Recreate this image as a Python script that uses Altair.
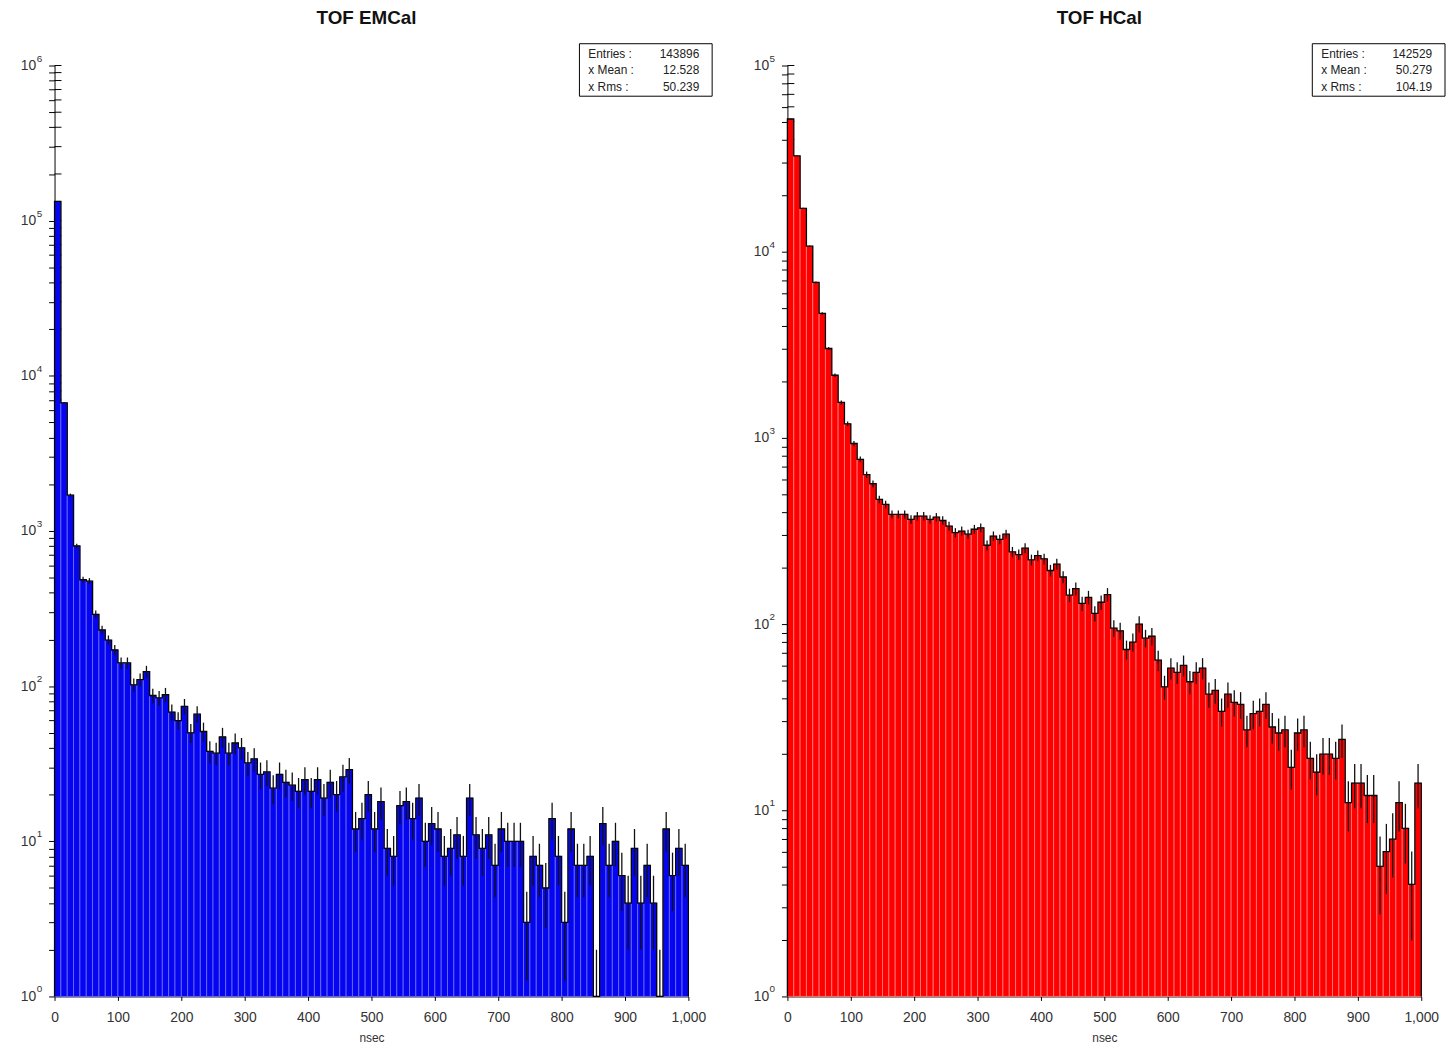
import altair as alt
import pandas as pd

# ---------------- data ----------------
bin_starts = list(range(0, 1000, 10))  # 100 bins of 10 nsec

emcal_counts = [
    133000, 6700, 1700, 800, 485, 475, 290, 230, 198, 171,
    141, 141, 102, 110, 124, 87, 84, 88, 68, 60,
    74, 50, 66, 51, 38, 37, 47, 37, 43, 40,
    32, 34, 27, 28, 22, 27, 24, 23, 21, 25,
    21, 25, 19, 24, 20, 26, 29, 12, 14, 20,
    12, 18, 9, 8, 17, 18, 14, 19, 10, 13,
    12, 8, 9, 11, 8, 19, 11, 9, 11, 7,
    12, 10, 10, 10, 3, 8, 7, 5, 14, 8,
    3, 12, 7, 7, 8, 1, 13, 7, 10, 6,
    4, 9, 4, 7, 4, 1, 12, 6, 9, 7,
]

hcal_counts = [
    51600, 32700, 17100, 10700, 6840, 4660, 3020, 2170, 1550, 1190,
    933, 767, 634, 567, 467, 439, 388, 388, 388, 365,
    380, 380, 365, 375, 360, 336, 310, 316, 304, 323,
    329, 265, 297, 285, 304, 244, 236, 256, 221, 233,
    224, 194, 210, 179, 143, 155, 129, 139, 114, 131,
    144, 95, 92, 73, 80, 100, 84, 86, 64, 46,
    58, 55, 60, 49, 55, 58, 42, 44, 34, 42,
    38, 37, 27, 33, 34, 37, 28, 26, 27, 17,
    26, 27, 19, 16, 20, 20, 19, 24, 11, 14,
    14, 12, 12, 5, 6, 7, 11, 8, 4, 14,
]

x_tick_values = list(range(0, 1001, 100))

stat_labels = ["Entries :", "x Mean :", "x Rms :"]
emcal_stat_values = ["143896", "12.528", "50.239"]
hcal_stat_values = ["142529", "50.279", "104.19"]

FONT = "Liberation Sans"
PLOT_W = 640
PLOT_H = 940


def panel(counts, title, fill, sep, top_exp, stat_values):
    df = pd.DataFrame({"lo": bin_starts, "n": counts})
    df["hi"] = df["lo"] + 10
    df["mid"] = df["lo"] + 5
    df["base"] = 1
    err = df["n"] ** 0.5
    df["elo"] = (df["n"] - err).clip(lower=1)
    df["ehi"] = df["n"] + err

    line_x = [0] + bin_starts + [1000, 1000]
    line_y = [1] + list(counts) + [counts[-1], 1]
    line_df = pd.DataFrame({"x": line_x, "y": line_y, "o": list(range(len(line_x)))})

    decades = [10 ** d for d in range(top_exp + 1)]
    exp_df = pd.DataFrame({"t": decades, "e": [str(d) for d in range(top_exp + 1)]})
    y_ticks = [k * 10 ** d for d in range(top_exp) for k in range(1, 10)] + [10 ** top_exp]
    tick_df = pd.DataFrame({"t": y_ticks})
    label_expr = " || ".join(f"datum.value == {v}" for v in decades)
    label_expr = f"({label_expr}) ? '10' : ''"

    xs = alt.Scale(domain=[0, 1000], nice=False, zero=False)
    ys = alt.Scale(type="log", domain=[1, 10 ** top_exp], nice=False)
    x_axis = alt.Axis(values=x_tick_values, format=",d", tickSize=4, labelPadding=10,
                      labelFlush=False, labelOverlap=False, titlePadding=9)
    y_axis = alt.Axis(values=y_ticks, labelExpr=label_expr, tickSize=6, labelPadding=13,
                      labelFlush=False, labelOverlap=False)

    inner_ticks = alt.Chart(tick_df).mark_rule(color="black", strokeWidth=1).encode(
        x=alt.value(0), x2=alt.value(7),
        y=alt.Y("t:Q", scale=ys, title=None),
    )
    bars = alt.Chart(df).mark_rect(fill=fill, stroke=sep, strokeWidth=0.8).encode(
        x=alt.X("lo:Q", scale=xs, axis=x_axis, title="nsec"),
        x2="hi:Q",
        y=alt.Y("n:Q", scale=ys, axis=y_axis, title=None),
        y2="base:Q",
    )
    outline = alt.Chart(line_df).mark_line(
        color="black", strokeWidth=1.3, interpolate="step-after"
    ).encode(
        x=alt.X("x:Q", scale=xs, title="nsec"),
        y=alt.Y("y:Q", scale=ys, title=None),
        order="o:Q",
    )
    errs = alt.Chart(df).mark_rule(color="#111111", strokeWidth=1.3).encode(
        x=alt.X("mid:Q", scale=xs, title="nsec"),
        y=alt.Y("elo:Q", scale=ys, title=None),
        y2="ehi:Q",
    )
    exps = alt.Chart(exp_df).mark_text(
        font=FONT, fontSize=10, align="left", baseline="middle", dy=-7, color="#333333"
    ).encode(
        x=alt.value(-18),
        y=alt.Y("t:Q", scale=ys, title=None),
        text="e:N",
    )

    one = pd.DataFrame({"a": [0]})
    box = alt.Chart(one).mark_rect(fill="white", stroke="black", strokeWidth=1).encode(
        x=alt.value(530), x2=alt.value(664), y=alt.value(-22), y2=alt.value(31)
    )
    layers = [inner_ticks, bars, outline, errs, exps, box]
    row_y = [-12, 5, 22]
    for lab, val, yy in zip(stat_labels, stat_values, row_y):
        layers.append(
            alt.Chart(one).mark_text(text=lab, font=FONT, fontSize=12, align="left",
                                     baseline="middle", color="#222222").encode(
                x=alt.value(539), y=alt.value(yy))
        )
        layers.append(
            alt.Chart(one).mark_text(text=val, font=FONT, fontSize=12, align="right",
                                     baseline="middle", color="#222222").encode(
                x=alt.value(651), y=alt.value(yy))
        )

    return alt.layer(*layers).properties(
        width=PLOT_W, height=PLOT_H,
        title=alt.TitleParams(title, font=FONT, fontSize=19, fontWeight="bold",
                              anchor="middle", frame="bounds", color="#111111", offset=15),
    )


left = panel(emcal_counts, "TOF EMCal", "#0505f0", "#7070ff", 6, emcal_stat_values)
right = panel(hcal_counts, "TOF HCal", "#ff0000", "#ff8080", 5, hcal_stat_values)

chart = alt.hconcat(left, right, spacing=100, bounds="flush").properties(
    padding={"left": 12, "top": -4, "right": 0, "bottom": 0}
).configure_view(stroke=None).configure_axis(
    grid=False,
    domainColor="black",
    tickColor="black",
    labelFont=FONT,
    labelFontSize=14,
    labelColor="#333333",
    titleFont=FONT,
    titleFontSize=12,
    titleFontWeight="normal",
    titleColor="#333333",
)

chart.save("out.html", embed_options={"renderer": "svg", "actions": False})
